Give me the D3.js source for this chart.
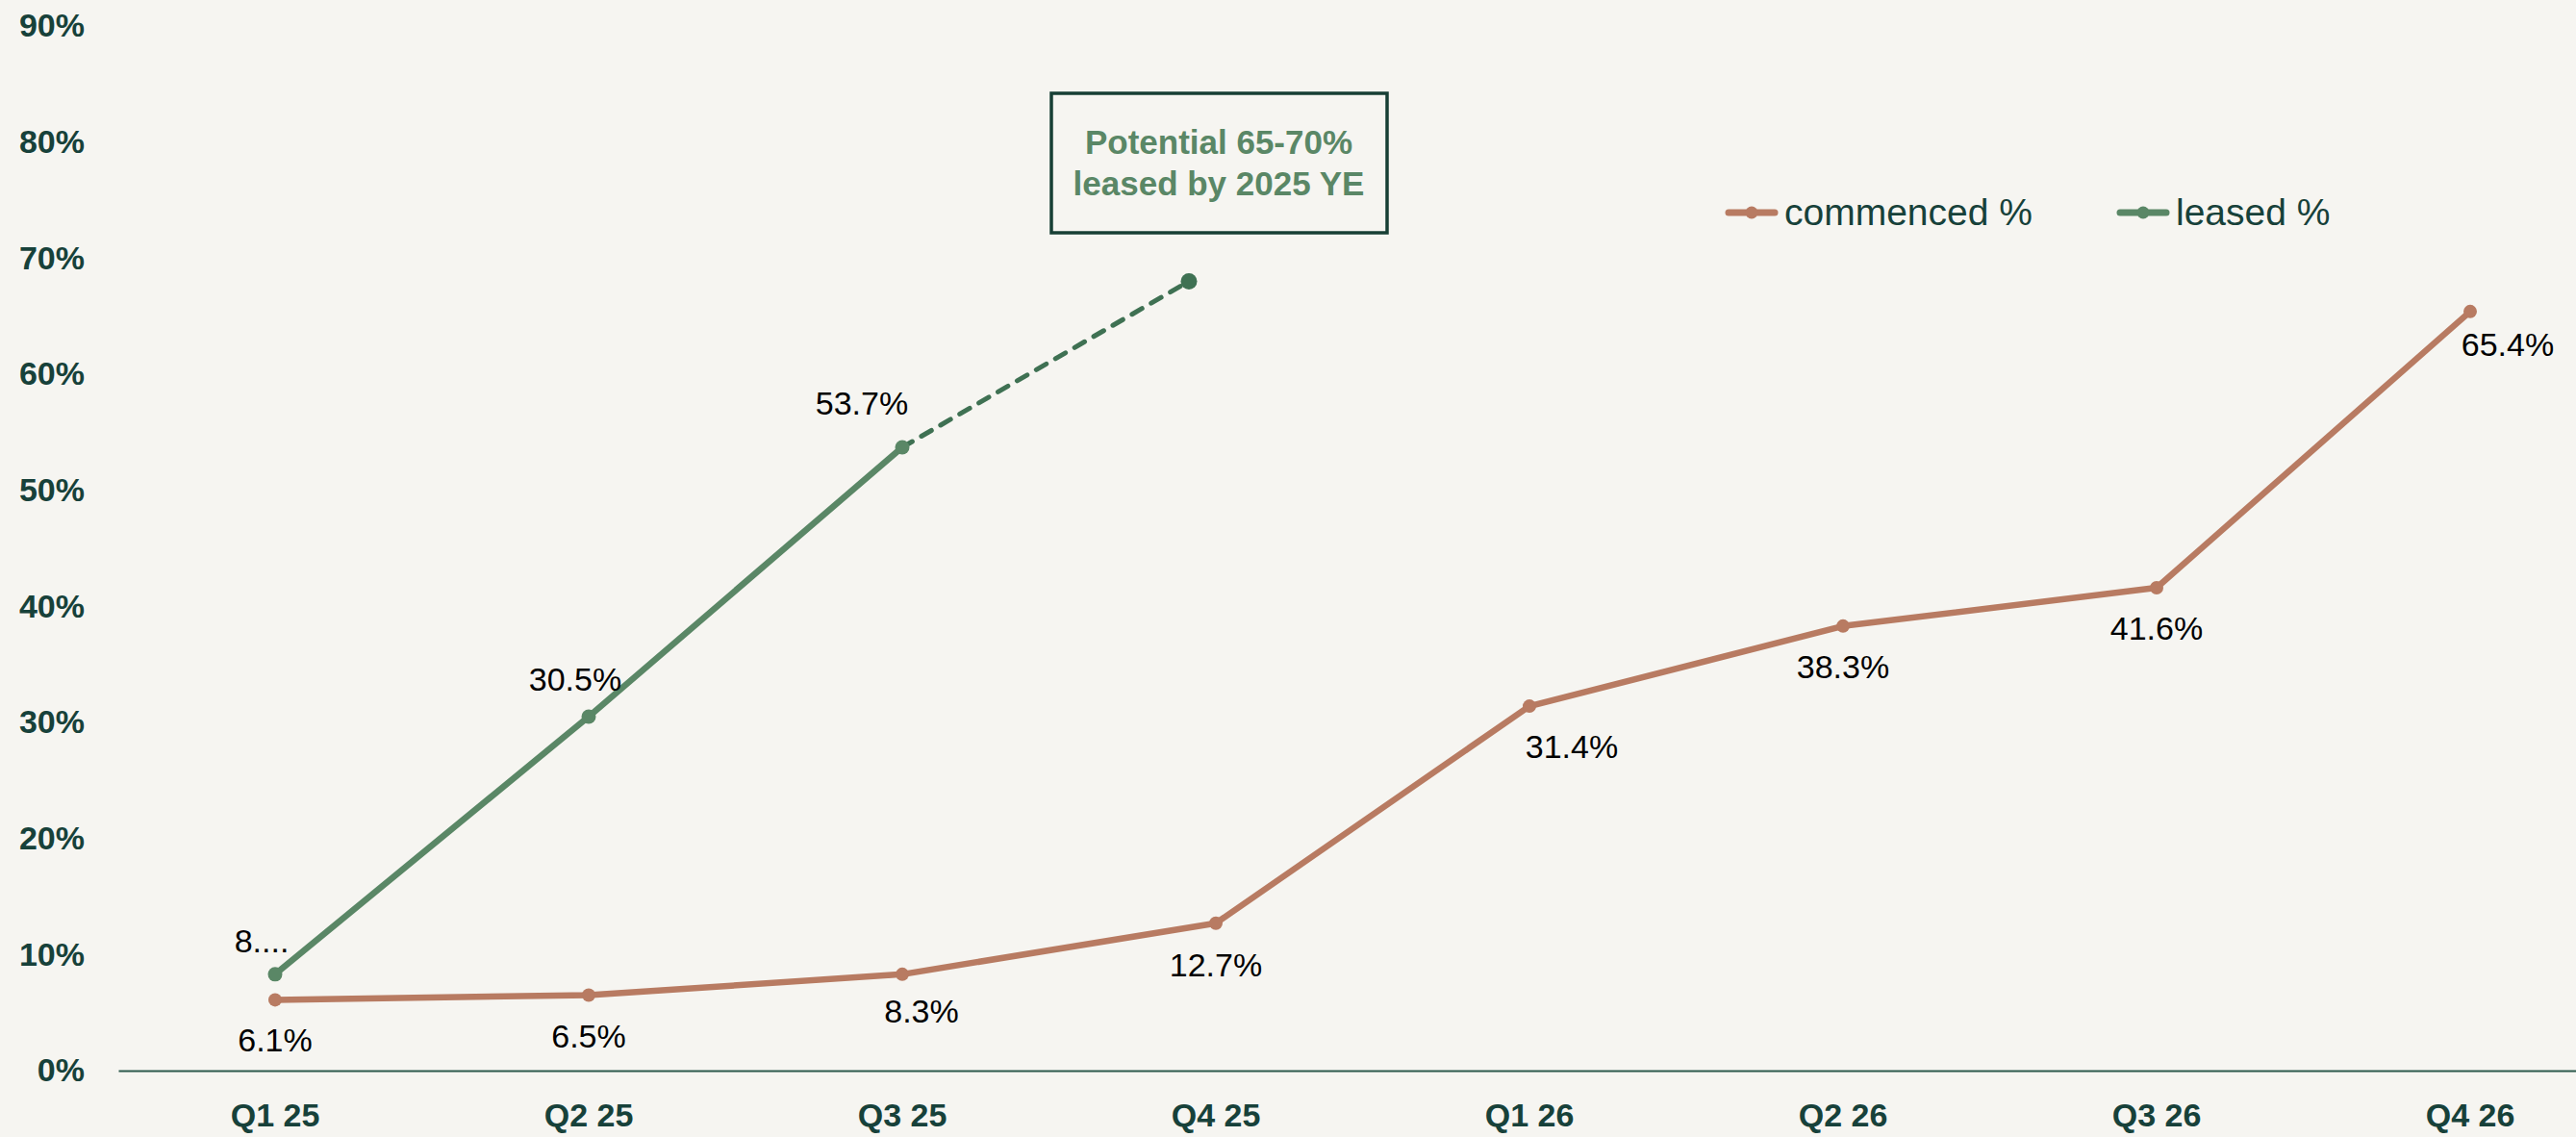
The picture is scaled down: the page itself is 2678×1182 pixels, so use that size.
<!DOCTYPE html>
<html>
<head>
<meta charset="utf-8">
<script src="https://cdn.jsdelivr.net/npm/d3@7"></script>
<style>
  html, body { margin: 0; padding: 0; background: #f6f5f1; }
  svg { display: block; }
  .axis text { font-family: "Liberation Sans", Arial, sans-serif; font-weight: bold; font-size: 34px; fill: #17413a; }
  .dlabel { font-family: "Liberation Sans", Arial, sans-serif; font-size: 34px; fill: #000; }
  .legend text { font-family: "Liberation Sans", Arial, sans-serif; font-size: 39px; fill: #17413a; }
</style>
</head>
<body>
<div id="chart"></div>
<script>
// quarters on the x axis
const categories = ["Q1 25", "Q2 25", "Q3 25", "Q4 25", "Q1 26", "Q2 26", "Q3 26", "Q4 26"];
// % of space commenced, per quarter
const commenced = [6.1, 6.5, 8.3, 12.7, 31.4, 38.3, 41.6, 65.4];
// % leased so far (Q1-Q3 25)
const leased = [8.3, 30.5, 53.7];
const leasedLabels = ["8....", "30.5%", "53.7%"];
// dashed projection to year end
const leasedProjection = 68;
const yTicks = [0, 10, 20, 30, 40, 50, 60, 70, 80, 90];
const seriesNames = ["commenced %", "leased %"];

// label nudges (layout only)
const commencedNudge = [[0, 54], [0, 54], [20, 50], [0, 55], [44, 54], [0, 54], [0, 54], [39, 46]];
const leasedNudge = [[-14, -23], [-14, -27], [-42, -34]];

const W = 2678, H = 1182;
const brown = "#b87b62", green = "#5a8766", darkGreen = "#3f7153";

let svg = d3.select("#chart").append("svg")
    .attr("width", W)
    .attr("height", H);

svg.append("rect").attr("width", W).attr("height", H).attr("fill", "#f6f5f1");

let x = d3.scaleBand().domain(categories).range([123, 2731]);
let y = d3.scaleLinear().domain([0, 90]).range([1113, 27]);
let cx = c => x(c) + x.bandwidth() / 2;

// y axis - labels only
svg.append("g")
    .attr("class", "axis axis--y")
    .attr("transform", "translate(123,0)")
    .call(d3.axisLeft(y).tickValues(yTicks).tickFormat(d => d + "%").tickSize(0).tickPadding(35))
    .call(g => g.select(".domain").remove());

// x axis
svg.append("g")
    .attr("class", "axis axis--x")
    .attr("transform", "translate(0," + y(0) + ")")
    .call(d3.axisBottom(x).tickSize(0).tickSizeOuter(0).tickPadding(34))
    .call(g => g.select(".domain").attr("stroke", "#2c5a4c").attr("stroke-width", 2));

let line = d3.line()
    .x(d => cx(d.cat))
    .y(d => y(d.v));

let comData = commenced.map((v, i) => ({cat: categories[i], v: v}));
let leaData = leased.map((v, i) => ({cat: categories[i], v: v}));

// dashed projection from last leased point
let lastLeased = leaData[leaData.length - 1];
let projX = cx(categories[leased.length]) - 28;
svg.append("path")
    .attr("d", d3.line()([[cx(lastLeased.cat), y(lastLeased.v)], [projX, y(leasedProjection)]]))
    .attr("fill", "none")
    .attr("stroke", darkGreen)
    .attr("stroke-width", 5)
    .attr("stroke-linecap", "round")
    .attr("stroke-dasharray", "12,11");
svg.append("circle")
    .attr("cx", projX)
    .attr("cy", y(leasedProjection))
    .attr("r", 8.5)
    .attr("fill", darkGreen);

// commenced line
svg.append("path")
    .datum(comData)
    .attr("d", line)
    .attr("fill", "none")
    .attr("stroke", brown)
    .attr("stroke-width", 6.5)
    .attr("stroke-linejoin", "round");
svg.selectAll(".dot-com")
    .data(comData)
    .enter().append("circle")
    .attr("class", "dot-com")
    .attr("cx", d => cx(d.cat))
    .attr("cy", d => y(d.v))
    .attr("r", 7)
    .attr("fill", brown);

// leased line
svg.append("path")
    .datum(leaData)
    .attr("d", line)
    .attr("fill", "none")
    .attr("stroke", green)
    .attr("stroke-width", 6.5)
    .attr("stroke-linejoin", "round");
svg.selectAll(".dot-lea")
    .data(leaData)
    .enter().append("circle")
    .attr("class", "dot-lea")
    .attr("cx", d => cx(d.cat))
    .attr("cy", d => y(d.v))
    .attr("r", 7.5)
    .attr("fill", green);

// data labels
svg.selectAll(".lbl-com")
    .data(comData)
    .enter().append("text")
    .attr("class", "dlabel")
    .attr("text-anchor", "middle")
    .attr("x", (d, i) => cx(d.cat) + commencedNudge[i][0])
    .attr("y", (d, i) => y(d.v) + commencedNudge[i][1])
    .text(d => d.v.toFixed(1) + "%");

svg.selectAll(".lbl-lea")
    .data(leaData)
    .enter().append("text")
    .attr("class", "dlabel")
    .attr("text-anchor", "middle")
    .attr("x", (d, i) => cx(d.cat) + leasedNudge[i][0])
    .attr("y", (d, i) => y(d.v) + leasedNudge[i][1])
    .text((d, i) => leasedLabels[i]);

// annotation box
let note = svg.append("g");
note.append("rect")
    .attr("x", 1093).attr("y", 97)
    .attr("width", 349).attr("height", 145)
    .attr("fill", "none")
    .attr("stroke", "#173f35")
    .attr("stroke-width", 3.5);
note.selectAll("text")
    .data(["Potential 65-70%", "leased by 2025 YE"])
    .enter().append("text")
    .attr("x", 1267)
    .attr("y", (d, i) => 160 + i * 43)
    .attr("text-anchor", "middle")
    .attr("font-family", "'Liberation Sans', Arial, sans-serif")
    .attr("font-weight", "bold")
    .attr("font-size", 35)
    .attr("fill", green)
    .text(d => d);

// legend
let legend = svg.append("g").attr("class", "legend");
let legX = [1793, 2200];
let legColors = [brown, green];
let item = legend.selectAll("g")
    .data(seriesNames)
    .enter().append("g")
    .attr("transform", (d, i) => "translate(" + legX[i] + ",221)");
item.append("line")
    .attr("x1", 4).attr("x2", 52)
    .attr("stroke", (d, i) => legColors[i])
    .attr("stroke-width", 7)
    .attr("stroke-linecap", "round");
item.append("circle")
    .attr("cx", 28).attr("r", 6.5)
    .attr("fill", (d, i) => legColors[i]);
item.append("text")
    .attr("x", 62)
    .attr("y", 13)
    .text(d => d);
</script>
</body>
</html>
